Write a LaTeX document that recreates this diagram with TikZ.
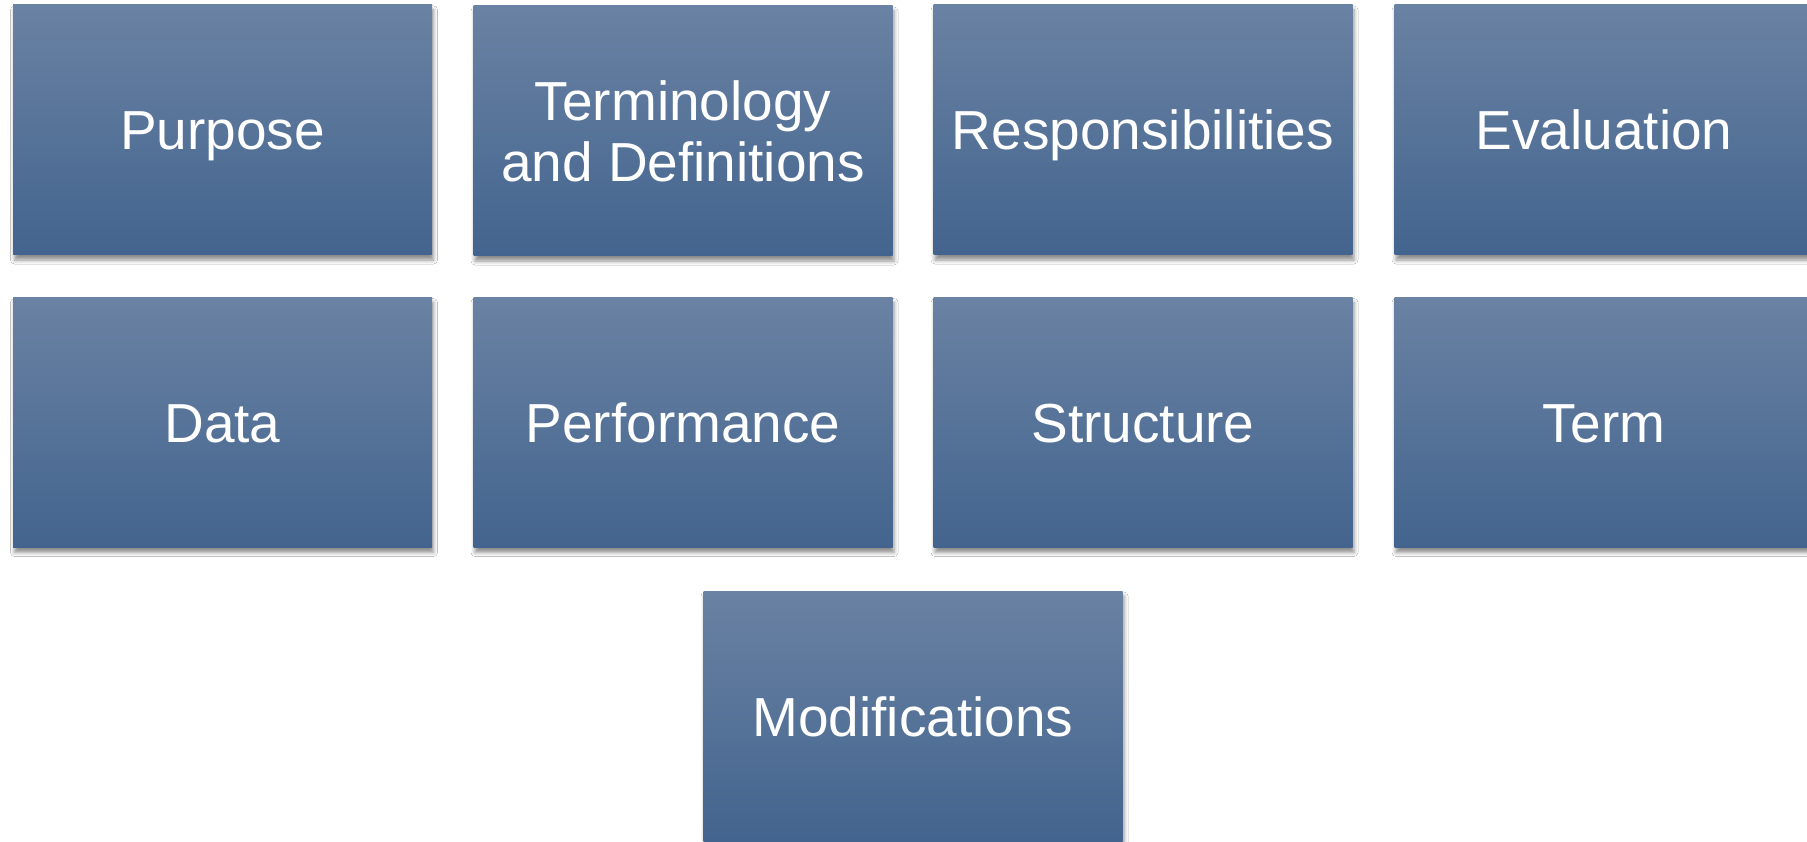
\documentclass[tikz,border=0pt]{standalone}
\usepackage{fontspec}
\setmainfont{Liberation Sans}
\usetikzlibrary{shadows.blur}
\definecolor{boxtop}{RGB}{106,130,163}
\definecolor{boxbot}{RGB}{67,100,142}
\tikzset{
  box/.style={rectangle, inner sep=0pt, minimum width=419pt, minimum height=250pt,
    top color=boxtop, bottom color=boxbot, text=white, align=center,
    font=\fontsize{55}{61}\selectfont,
    blur shadow={shadow xshift=1.5pt, shadow yshift=-5pt, shadow blur radius=4pt, shadow opacity=45}},
  oneline/.style={text height=45pt, text depth=5pt}
}
\begin{document}
\begin{tikzpicture}[x=1pt,y=-1pt]
\useasboundingbox (0,0) rectangle (1807,842);
\fill[white] (0,0) rectangle (1807,842);
\node[box,oneline] (purpose) at (222.5,130) {Purpose};
\node[box] (term) at (683,131) {Terminology\\and Definitions};
\node[box,oneline] (resp) at (1143,130) {Responsibilities};
\node[box,oneline] (eval) at (1604,130) {Evaluation};
\node[box,oneline] (data) at (222.5,422.5) {Data};
\node[box,oneline] (perf) at (683,422.5) {Performance};
\node[box,oneline] (struct) at (1143,422.5) {Structure};
\node[box,oneline] (termb) at (1604,422.5) {Term};
\node[box,oneline] (mod) at (913,716) {Modifications};
\end{tikzpicture}
\end{document}
